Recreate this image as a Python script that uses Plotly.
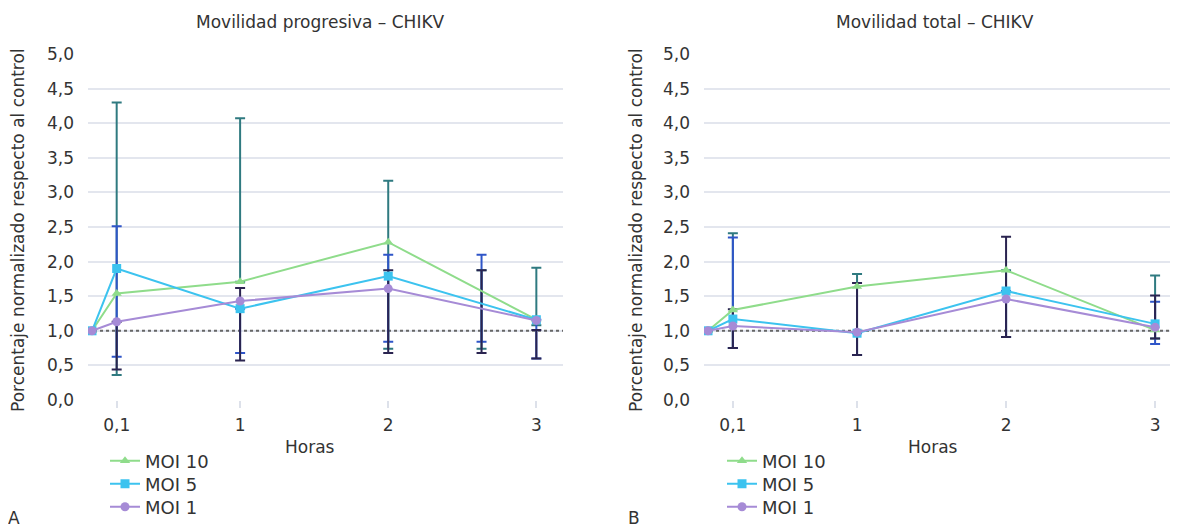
import plotly.graph_objects as go

# ---------------- data ----------------
hours = [0, 1 / 6, 1, 2, 3]
x_tick_vals = [1 / 6, 1, 2, 3]
x_tick_labels = ["0,1", "1", "2", "3"]
y_tick_vals = [0, 0.5, 1, 1.5, 2, 2.5, 3, 3.5, 4, 4.5, 5]
control_level = 1.0

series_names = ["MOI 10", "MOI 5", "MOI 1"]

# Panel A: Movilidad progresiva
a_moi10 = [1.0, 1.54, 1.71, 2.28, 1.16]
a_moi5 = [1.0, 1.90, 1.32, 1.79, 1.16]
a_moi1 = [1.0, 1.13, 1.43, 1.61, 1.15]
a_err_x = [1 / 6, 1, 2, 2.63, 3]
a_moi10_hi = [4.30, 4.07, 3.17, 1.875, 1.91]
a_moi10_lo = [0.36, 1.71, 0.74, 0.74, 1.08]
a_moi5_hi = [2.51, 1.32, 2.10, 2.10, 1.16]
a_moi5_lo = [0.625, 0.68, 0.84, 0.84, 0.60]
a_moi1_hi = [1.13, 1.62, 1.875, 1.875, 1.01]
a_moi1_lo = [0.44, 0.57, 0.68, 0.68, 0.60]

# Panel B: Movilidad total
b_moi10 = [1.0, 1.30, 1.64, 1.875, 1.01]
b_moi5 = [1.0, 1.17, 0.965, 1.575, 1.10]
b_moi1 = [1.0, 1.07, 0.98, 1.46, 1.05]
b_err_x = [1 / 6, 1, 2, 3]
b_moi10_hi = [2.41, 1.82, 1.875, 1.80]
b_moi10_lo = [0.75, 0.65, 0.91, 0.89]
b_moi5_hi = [2.35, 0.965, 1.575, 1.42]
b_moi5_lo = [0.75, 0.65, 0.91, 0.81]
b_moi1_hi = [1.31, 1.69, 2.36, 1.51]
b_moi1_lo = [0.75, 0.65, 0.91, 0.89]

a_x_range = [-0.027, 3.18]
b_x_range = [-0.027, 3.1]

# ---------------- style ----------------
FONT = "DejaVu Sans"
TXT = "#333333"
FS = 17
LFS = 18
line_colors = ["#8FDC8B", "#3CC3EF", "#A68BD6"]
err_colors = ["#2F7A80", "#2F55C8", "#2A2450"]
symbols = ["triangle-up", "square", "circle"]
msizes = [9, 9, 9]

W, H = 1182, 527
OFF = 8  # page body margin
def px_x(p):
    return (p - OFF) / W
def px_y(p):
    return 1 - (p - OFF) / H

fig = go.Figure()

panels = [
    dict(xa="x", ya="y", legs=["legend", "legend2", "legend3"], lx=105, xr=a_x_range,
         vals=[a_moi10, a_moi5, a_moi1],
         ex=a_err_x,
         hi=[a_moi10_hi, a_moi5_hi, a_moi1_hi],
         lo=[a_moi10_lo, a_moi5_lo, a_moi1_lo]),
    dict(xa="x2", ya="y2", legs=["legend4", "legend5", "legend6"], lx=722, xr=b_x_range,
         vals=[b_moi10, b_moi5, b_moi1],
         ex=b_err_x,
         hi=[b_moi10_hi, b_moi5_hi, b_moi1_hi],
         lo=[b_moi10_lo, b_moi5_lo, b_moi1_lo]),
]

for p in panels:
    # dotted control line
    fig.add_trace(go.Scatter(
        x=p["xr"], y=[control_level, control_level], mode="lines",
        line=dict(color="#666666", width=2, dash="dot"),
        xaxis=p["xa"], yaxis=p["ya"], showlegend=False, hoverinfo="skip"))
    # error bars (teal, blue, navy)
    for i in range(3):
        hi, lo = p["hi"][i], p["lo"][i]
        fig.add_trace(go.Scatter(
            x=p["ex"], y=lo, mode="markers",
            marker=dict(size=1, color="rgba(0,0,0,0)"),
            error_y=dict(type="data", symmetric=False,
                         array=[h - l for h, l in zip(hi, lo)],
                         arrayminus=[0] * len(lo),
                         color=err_colors[i], thickness=2, width=5),
            xaxis=p["xa"], yaxis=p["ya"], showlegend=False, hoverinfo="skip"))
    for i in range(3):
        fig.add_trace(go.Scatter(
            x=hours, y=p["vals"][i], mode="lines+markers", name=series_names[i],
            line=dict(color=line_colors[i], width=2),
            marker=dict(symbol=symbols[i], size=msizes[i], color=line_colors[i]),
            xaxis=p["xa"], yaxis=p["ya"], legend=p["legs"][i]))

axis_common_x = dict(
    tickmode="array", tickvals=x_tick_vals, ticktext=x_tick_labels,
    showgrid=False, zeroline=False, showline=False, automargin=False,
    ticks="outside", ticklen=7, tickcolor="#DDE1EA", tickwidth=1.5,
    ticklabelstandoff=3,
    tickfont=dict(family=FONT, size=FS, color=TXT),
)
axis_common_y = dict(
    range=[0, 5], tickmode="array", tickvals=y_tick_vals, tickformat=".1f",
    showgrid=True, gridcolor="#E3E6EE", gridwidth=1.5, zeroline=False,
    showline=False, ticks="", ticklabelstandoff=13, automargin=False,
    tickfont=dict(family=FONT, size=FS, color=TXT),
)

legend_style = dict(xanchor="left", yanchor="middle", bgcolor="rgba(0,0,0,0)",
                    font=dict(family=FONT, size=LFS, color=TXT), itemwidth=30)
legends = {}
row_y = [461, 484, 507]
for p in panels:
    for i, lg in enumerate(p["legs"]):
        legends[lg] = dict(x=px_x(p["lx"]), y=px_y(row_y[i]), **legend_style)

fig.update_layout(
    width=W, height=H,
    margin=dict(l=0, r=0, t=0, b=0, pad=0, autoexpand=False),
    paper_bgcolor="white", plot_bgcolor="white",
    separators=",.",
    font=dict(family=FONT, size=FS, color=TXT),
    xaxis=dict(domain=[px_x(88), px_x(563)], range=a_x_range, anchor="y", **axis_common_x),
    yaxis=dict(domain=[px_y(400), px_y(54)], anchor="x", **axis_common_y),
    xaxis2=dict(domain=[px_x(704), px_x(1170)], range=b_x_range, anchor="y2", **axis_common_x),
    yaxis2=dict(domain=[px_y(400), px_y(54)], anchor="x2", **axis_common_y),
    showlegend=True,
    **legends,
)

annos = [
    ("Movilidad progresiva – CHIKV", 320, 22, 0),
    ("Movilidad total – CHIKV", 935, 22, 0),
    ("Horas", 310, 447, 0),
    ("Horas", 933, 447, 0),
    ("Porcentaje normalizado respecto al control", 18, 230, -90),
    ("Porcentaje normalizado respecto al control", 636, 230, -90),
    ("A", 14, 518, 0),
    ("B", 634, 518, 0),
]
for text, x, y, ang in annos:
    fig.add_annotation(text=text, x=px_x(x), y=px_y(y), xref="paper", yref="paper",
                       showarrow=False, textangle=ang, xanchor="center", yanchor="middle",
                       font=dict(family=FONT, size=FS, color=TXT))

fig.write_html("out.html")
